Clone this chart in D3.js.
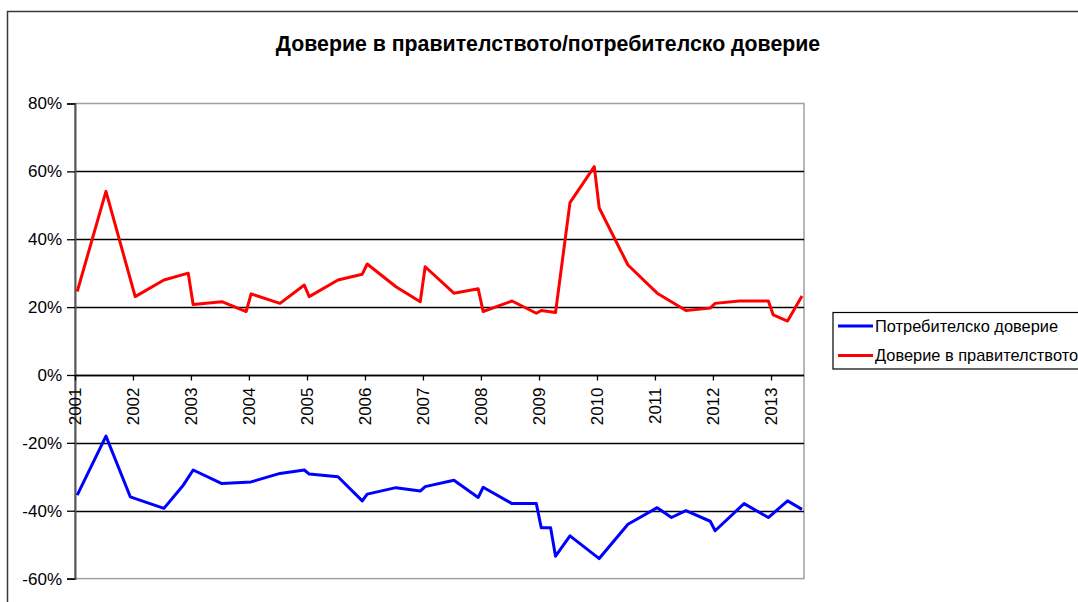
<!DOCTYPE html>
<html>
<head>
<meta charset="utf-8">
<script src="https://cdn.jsdelivr.net/npm/d3@7"></script>
<style>
  html, body { margin: 0; padding: 0; background: #fff; }
  svg { display: block; font-family: Arial, "Liberation Sans", sans-serif; }
</style>
</head>
<body>
<svg id="chart" width="1078" height="602"></svg>
<script>
// Доверие в правителството (red), monthly readings
const govDates = ['2001-01','2001-07','2002-01','2002-07','2002-12','2003-01','2003-07','2003-12',
  '2004-01','2004-07','2004-12','2005-01','2005-07','2005-12','2006-01','2006-07','2006-12',
  '2007-01','2007-07','2007-12','2008-01','2008-07','2008-12','2009-01','2009-04','2009-07',
  '2009-12','2010-01','2010-07','2011-01','2011-07','2011-12','2012-01','2012-06','2012-12',
  '2013-01','2013-04','2013-07'];
const govValues = [24.6, 54.1, 23.1, 28.0, 30.0, 20.8, 21.6, 18.7,
  23.9, 21.1, 26.5, 23.1, 28.0, 29.7, 32.7, 26.0, 21.6,
  31.9, 24.1, 25.4, 18.7, 21.8, 18.2, 19.0, 18.4, 50.8,
  61.4, 49.2, 32.4, 24.1, 19.0, 19.7, 21.1, 21.8, 21.8,
  17.7, 15.9, 23.3];

// Потребителско доверие (blue)
const consDates = ['2001-01','2001-07','2001-12','2002-07','2002-11','2003-01','2003-07','2004-01',
  '2004-07','2004-12','2005-01','2005-07','2005-12','2006-01','2006-07','2006-12','2007-01',
  '2007-07','2007-12','2008-01','2008-07','2008-12','2009-01','2009-03','2009-04','2009-07',
  '2010-01','2010-07','2011-01','2011-04','2011-07','2011-12','2012-01','2012-07','2012-12',
  '2013-04','2013-07'];
const consValues = [-35.4, -18.0, -35.9, -39.3, -32.4, -28.0, -32.0, -31.5,
  -29.0, -28.0, -29.2, -30.0, -37.1, -35.1, -33.2, -34.2, -32.9,
  -31.0, -36.1, -33.1, -37.9, -37.9, -45.0, -45.0, -53.4, -47.4,
  -54.1, -44.0, -39.1, -42.0, -40.0, -43.1, -45.9, -37.9, -42.0,
  -37.1, -39.6];

const yTicks = [-60, -40, -20, 0, 20, 40, 60, 80];
const title = 'Доверие в правителството/потребителско доверие';
const seriesNames = ['Потребителско доверие', 'Доверие в  правителството'];
const seriesColors = ['#0000ff', '#ff0000'];

// readings are plotted mid-month
const parse = s => d3.timeDay.offset(d3.timeParse('%Y-%m')(s), 14);
const svg = d3.select('#chart');

const plotLeft = 75, plotRight = 804, plotTop = 103.5, plotBottom = 578.6;

// 58px per year; the plot area stops part way through 2013
const x = d3.scaleTime()
  .domain([new Date(2001, 0, 1), new Date(2014, 0, 1)])
  .range([plotLeft, plotLeft + 13 * 58]);
const y = d3.scaleLinear()
  .domain([-60, 80])
  .range([plotBottom, plotTop]);

// outer chart frame
svg.append('rect')
  .attr('x', 7.5).attr('y', 11.5)
  .attr('width', 1100).attr('height', 620)
  .attr('fill', '#fff')
  .attr('stroke', '#3a3a3a')
  .attr('stroke-width', 1.5);

svg.append('text')
  .attr('x', 548).attr('y', 51)
  .attr('text-anchor', 'middle')
  .attr('font-weight', 'bold')
  .attr('font-size', 21.3)
  .attr('fill', '#000')
  .text(title);

// plot area border
svg.append('rect')
  .attr('x', plotLeft).attr('y', plotTop)
  .attr('width', plotRight - plotLeft).attr('height', plotBottom - plotTop)
  .attr('fill', 'none')
  .attr('stroke', '#a0a0a0')
  .attr('stroke-width', 1.5);

// gridlines
svg.append('g')
  .selectAll('line')
  .data(yTicks.filter(t => t !== 80 && t !== -60))
  .join('line')
  .attr('x1', plotLeft).attr('x2', plotRight)
  .attr('y1', d => Math.round(y(d)) + 0.5).attr('y2', d => Math.round(y(d)) + 0.5)
  .attr('stroke', '#000')
  .attr('stroke-width', 1.3);

// y axis
const yAxis = svg.append('g')
  .attr('transform', `translate(${plotLeft},0)`)
  .call(d3.axisLeft(y).tickValues(yTicks).tickSize(8).tickPadding(5).tickFormat(d => d + '%'));
yAxis.select('.domain').attr('stroke', '#555').attr('stroke-width', 2);
yAxis.selectAll('.tick line').attr('stroke', '#000').attr('stroke-width', 1.3);
yAxis.selectAll('.tick text')
  .attr('font-size', 17)
  .attr('font-family', 'Arial, "Liberation Sans", sans-serif')
  .attr('fill', '#000');

// x axis at 0%
const xAxis = svg.append('g')
  .attr('transform', `translate(0,${Math.round(y(0)) + 0.5})`)
  .call(d3.axisBottom(x)
    .tickValues(d3.timeYear.range(new Date(2001, 0, 1), new Date(2014, 0, 1)))
    .tickSize(5).tickFormat(d3.timeFormat('%Y')));
xAxis.select('.domain').remove();
xAxis.append('line')
  .attr('x1', plotLeft).attr('x2', plotRight)
  .attr('stroke', '#000').attr('stroke-width', 1.3);
xAxis.selectAll('.tick line').attr('stroke', '#000').attr('stroke-width', 1.3);
xAxis.selectAll('.tick text')
  .attr('font-size', 17)
  .attr('font-family', 'Arial, "Liberation Sans", sans-serif')
  .attr('fill', '#000')
  .attr('text-anchor', 'end')
  .attr('transform', 'rotate(-90)')
  .attr('x', -12)
  .attr('y', 0)
  .attr('dy', '0.35em');

const line = d3.line()
  .x(d => x(d[0]))
  .y(d => y(d[1]));

const consData = consDates.map((d, i) => [parse(d), consValues[i]]);
const govData = govDates.map((d, i) => [parse(d), govValues[i]]);

svg.append('path')
  .datum(consData)
  .attr('d', line)
  .attr('fill', 'none')
  .attr('stroke', seriesColors[0])
  .attr('stroke-width', 3)
  .attr('stroke-linejoin', 'round');

svg.append('path')
  .datum(govData)
  .attr('d', line)
  .attr('fill', 'none')
  .attr('stroke', seriesColors[1])
  .attr('stroke-width', 3)
  .attr('stroke-linejoin', 'round');

// legend
const legend = svg.append('g');
legend.append('rect')
  .attr('x', 833).attr('y', 312.5)
  .attr('width', 300).attr('height', 56.5)
  .attr('fill', '#fff')
  .attr('stroke', '#000')
  .attr('stroke-width', 1.2);

const items = legend.selectAll('g.item')
  .data(seriesNames)
  .join('g')
  .attr('class', 'item')
  .attr('transform', (d, i) => `translate(0,${326 + i * 29.5})`);
items.append('line')
  .attr('x1', 838).attr('x2', 873)
  .attr('stroke', (d, i) => seriesColors[i])
  .attr('stroke-width', 3);
items.append('text')
  .attr('x', 875).attr('y', 0)
  .attr('dy', '0.35em')
  .attr('font-size', 16.4)
  .attr('fill', '#000')
  .text(d => d);
</script>
</body>
</html>
